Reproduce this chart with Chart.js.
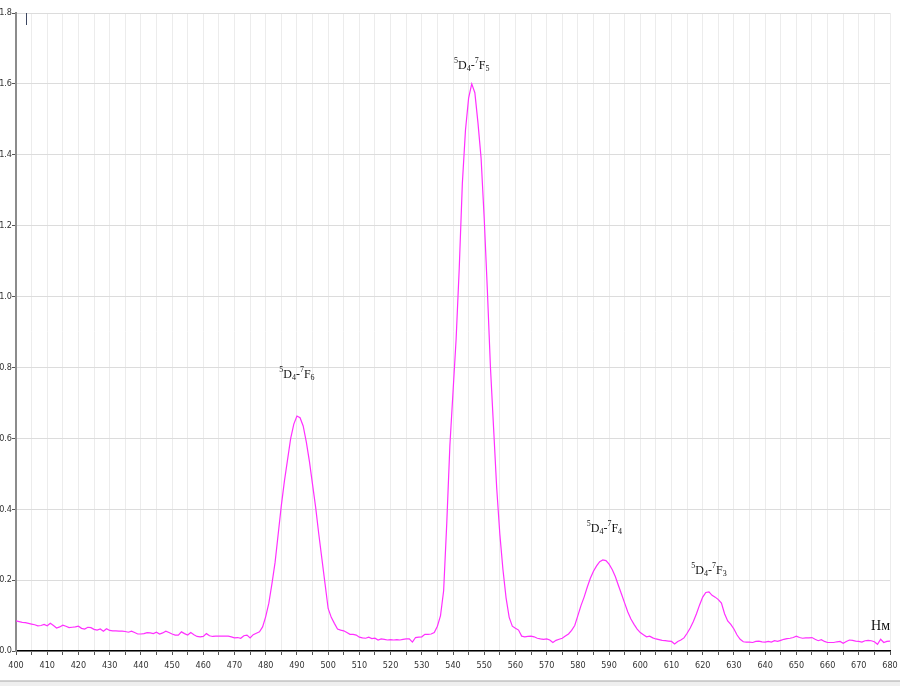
<!DOCTYPE html>
<html>
<head>
<meta charset="utf-8">
<title>Spectrum</title>
<script src="https://cdn.jsdelivr.net/npm/chart.js@4/dist/chart.umd.min.js"></script>
<style>
  html, body { margin: 0; padding: 0; background: #fff; }
  #wrap { position: relative; width: 900px; height: 686px; }
</style>
</head>
<body>
<div id="wrap"><canvas id="spectrum" width="900" height="686"></canvas></div>
<script>
// ================= DATA =================
// wavelength grid (nm): first point and step, one value per nm
const nmStart = 400;
const nmStep = 1;

// intensity, 400 ... 680 nm (10 values per row)
const intensity = [
  0.085, 0.083, 0.081, 0.080, 0.078, 0.076, 0.074, 0.071, 0.072, 0.075, // 400
  0.071, 0.078, 0.072, 0.065, 0.068, 0.073, 0.070, 0.066, 0.067, 0.068, // 410
  0.070, 0.064, 0.062, 0.067, 0.066, 0.061, 0.059, 0.062, 0.056, 0.063, // 420
  0.058, 0.057, 0.057, 0.056, 0.056, 0.055, 0.053, 0.056, 0.052, 0.048, // 430
  0.048, 0.049, 0.052, 0.051, 0.049, 0.053, 0.048, 0.051, 0.056, 0.052, // 440
  0.048, 0.045, 0.045, 0.054, 0.049, 0.045, 0.052, 0.046, 0.041, 0.040, // 450
  0.041, 0.049, 0.043, 0.041, 0.042, 0.042, 0.042, 0.042, 0.042, 0.040, // 460
  0.037, 0.038, 0.036, 0.043, 0.045, 0.037, 0.046, 0.050, 0.054, 0.068, // 470
  0.097, 0.135, 0.190, 0.250, 0.330, 0.410, 0.480, 0.540, 0.600, 0.640, // 480
  0.663, 0.658, 0.635, 0.590, 0.535, 0.470, 0.405, 0.330, 0.260, 0.190, // 490
  0.120, 0.095, 0.078, 0.062, 0.059, 0.057, 0.052, 0.047, 0.047, 0.045, // 500
  0.039, 0.037, 0.036, 0.039, 0.035, 0.036, 0.031, 0.034, 0.033, 0.031, // 510
  0.032, 0.031, 0.032, 0.031, 0.033, 0.034, 0.034, 0.025, 0.038, 0.039, // 520
  0.040, 0.047, 0.047, 0.048, 0.052, 0.070, 0.100, 0.170, 0.360, 0.580, // 530
  0.730, 0.880, 1.080, 1.320, 1.470, 1.560, 1.600, 1.575, 1.490, 1.390, // 540
  1.220, 1.020, 0.800, 0.630, 0.460, 0.330, 0.230, 0.150, 0.095, 0.070, // 550
  0.064, 0.059, 0.042, 0.040, 0.041, 0.042, 0.040, 0.036, 0.034, 0.033, // 560
  0.034, 0.031, 0.024, 0.030, 0.033, 0.036, 0.042, 0.048, 0.058, 0.072, // 570
  0.100, 0.128, 0.152, 0.180, 0.205, 0.225, 0.240, 0.252, 0.257, 0.255, // 580
  0.245, 0.230, 0.210, 0.185, 0.160, 0.135, 0.110, 0.090, 0.075, 0.062, // 590
  0.052, 0.046, 0.040, 0.042, 0.037, 0.034, 0.032, 0.030, 0.029, 0.028, // 600
  0.027, 0.020, 0.027, 0.031, 0.037, 0.050, 0.065, 0.083, 0.105, 0.130, // 610
  0.152, 0.165, 0.167, 0.157, 0.152, 0.145, 0.135, 0.105, 0.085, 0.075, // 620
  0.062, 0.045, 0.033, 0.026, 0.025, 0.025, 0.024, 0.027, 0.028, 0.026, // 630
  0.025, 0.027, 0.025, 0.029, 0.027, 0.030, 0.033, 0.035, 0.036, 0.038, // 640
  0.042, 0.038, 0.036, 0.037, 0.037, 0.038, 0.033, 0.029, 0.032, 0.027, // 650
  0.024, 0.024, 0.024, 0.026, 0.027, 0.022, 0.027, 0.031, 0.030, 0.028, // 660
  0.027, 0.025, 0.029, 0.030, 0.029, 0.026, 0.019, 0.033, 0.024, 0.027, // 670
  0.028                                                                 // 680
];

// axis ranges / ticks
const xMin = 400, xMax = 680, xTickStep = 5, xLabelStep = 10;
const yMin = 0, yMax = 1.8, yTickStep = 0.2;

// peak annotations: 5D4-7Fj transitions
const peakLower = ['6', '5', '4', '3'];     // j of 7Fj
const peakNm = [490, 546, 588.5, 622];       // label centre (nm)
const peakLabelY = [0.77, 1.642, 0.336, 0.217]; // label baseline (intensity)

const unitLabel = 'Нм';
const cursorNm = 403.2;

// ================= CHART =================
const points = intensity.map((v, i) => ({ x: nmStart + i * nmStep, y: v }));

const tickFont = { family: '"DejaVu Sans Condensed", "Liberation Sans Narrow", sans-serif', size: 9 };
const serif = '"Liberation Serif", "DejaVu Serif", serif';

// draws one term label like 5D4-7F6 with super/subscripts, centred at cx
function drawTerm(ctx, cx, y, lower) {
  const parts = [
    { t: '5', f: 8, dy: -6 },
    { t: 'D', f: 12, dy: 0 },
    { t: '4', f: 8, dy: 2 },
    { t: '-', f: 12, dy: 0 },
    { t: '7', f: 8, dy: -6 },
    { t: 'F', f: 12, dy: 0 },
    { t: lower, f: 8, dy: 2 }
  ];
  let w = 0;
  parts.forEach(p => { ctx.font = p.f + 'px ' + serif; p.w = ctx.measureText(p.t).width; w += p.w; });
  let x = cx - w / 2;
  parts.forEach(p => {
    ctx.font = p.f + 'px ' + serif;
    ctx.fillText(p.t, x, y + p.dy);
    x += p.w;
  });
}

const decor = {
  id: 'decor',
  beforeDraw(chart) {
    const ctx = chart.ctx;
    ctx.save();
    ctx.fillStyle = '#fff';
    ctx.fillRect(0, 0, chart.width, chart.height);
    ctx.restore();
  },
  afterDraw(chart) {
    const ctx = chart.ctx;
    const xs = chart.scales.x, ys = chart.scales.y;
    ctx.save();

    // frame at the bottom
    ctx.fillStyle = '#efefef';
    ctx.fillRect(0, 681, chart.width, chart.height - 681);
    ctx.fillStyle = '#a8a8a8';
    ctx.fillRect(0, 680.5, chart.width, 1);

    // peak labels
    ctx.fillStyle = '#111';
    ctx.textBaseline = 'alphabetic';
    ctx.textAlign = 'left';
    peakNm.forEach((nm, i) => {
      drawTerm(ctx, xs.getPixelForValue(nm), ys.getPixelForValue(peakLabelY[i]), peakLower[i]);
    });

    // unit
    ctx.font = '14px ' + serif;
    ctx.textAlign = 'right';
    ctx.fillText(unitLabel, xs.right, ys.getPixelForValue(0.06));

    // cursor mark
    const cx = Math.round(xs.getPixelForValue(cursorNm)) + 0.5;
    ctx.strokeStyle = '#3c4660';
    ctx.lineWidth = 1;
    ctx.beginPath();
    ctx.moveTo(cx, ys.top);
    ctx.lineTo(cx, ys.top + 12);
    ctx.stroke();

    ctx.restore();
  }
};

new Chart(document.getElementById('spectrum'), {
  type: 'line',
  data: {
    datasets: [{
      data: points,
      borderColor: '#ff30ff',
      borderWidth: 1.2,
      pointRadius: 0,
      tension: 0,
      fill: false
    }]
  },
  options: {
    responsive: false,
    animation: false,
    events: [],
    layout: { padding: { top: 13, right: 10, left: 0, bottom: 0 } },
    plugins: { legend: { display: false }, tooltip: { enabled: false } },
    scales: {
      x: {
        type: 'linear',
        min: xMin,
        max: xMax,
        border: { color: '#000', width: 1.5 },
        grid: { color: '#ececec', lineWidth: 1, tickLength: 4, tickColor: '#555' },
        ticks: {
          stepSize: xTickStep,
          autoSkip: false,
          maxRotation: 0,
          padding: 5,
          color: '#333',
          font: tickFont,
          callback: v => (v % xLabelStep === 0 ? String(v) : '')
        },
        afterFit: s => { s.height = 35; s.paddingLeft = 0; s.paddingRight = 0; }
      },
      y: {
        min: yMin,
        max: yMax,
        border: { color: '#8c8c8c', width: 2 },
        grid: { color: '#dcdcdc', lineWidth: 1, tickLength: 4, tickColor: '#555' },
        ticks: {
          stepSize: yTickStep,
          padding: 0,
          color: '#333',
          font: tickFont,
          callback: v => v.toFixed(1)
        },
        afterFit: s => { s.width = 16; s.paddingTop = 0; s.paddingBottom = 0; }
      }
    }
  },
  plugins: [decor]
});
</script>
</body>
</html>
